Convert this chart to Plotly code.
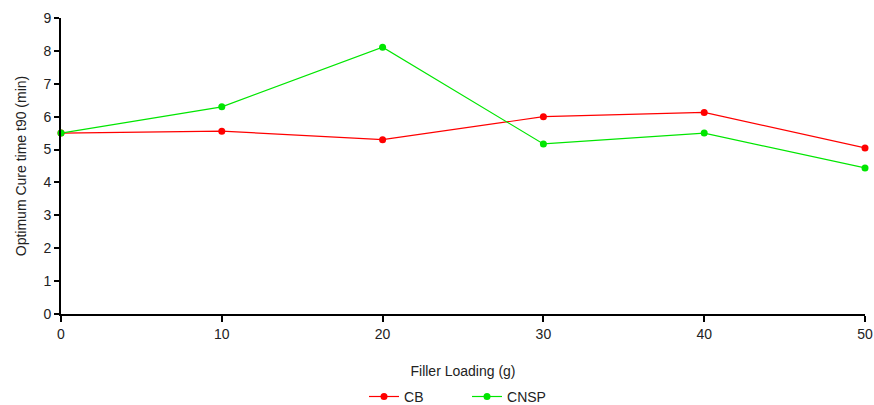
import plotly.graph_objects as go

filler_loading = [0, 10, 20, 30, 40, 50]
cb = [5.50, 5.56, 5.30, 6.00, 6.13, 5.05]
cnsp = [5.50, 6.30, 8.11, 5.17, 5.50, 4.44]

fig = go.Figure()
fig.add_trace(go.Scatter(x=filler_loading, y=cb, mode="lines+markers", name="CB",
                         line=dict(color="#ff0000", width=1.2),
                         marker=dict(color="#ff0000", size=7), cliponaxis=False))
fig.add_trace(go.Scatter(x=filler_loading, y=cnsp, mode="lines+markers", name="CNSP",
                         line=dict(color="#00e600", width=1.2),
                         marker=dict(color="#00e600", size=7), cliponaxis=False))

font = "Liberation Sans, Arial, sans-serif"
fig.update_layout(
    width=874, height=405,
    margin=dict(l=61, r=9, t=18, b=91, autoexpand=False),
    paper_bgcolor="white", plot_bgcolor="white",
    font=dict(family=font, size=14, color="#222"),
    showlegend=True,
    legend=dict(orientation="h", x=0.505, xanchor="center", y=0.02, yanchor="middle",
                yref="container",
                font=dict(size=14), traceorder="normal", itemwidth=30,
                entrywidthmode="pixels", entrywidth=58),
)
fig.update_xaxes(range=[0, 50], tickvals=filler_loading, showgrid=False, zeroline=False,
                 showline=True, linecolor="black", linewidth=2, automargin=False,
                 ticks="outside", ticklen=6, tickwidth=1.5, tickcolor="black",
                 title=dict(text="Filler Loading (g)", font=dict(size=14), standoff=25))
fig.update_yaxes(range=[0, 9], dtick=1, showgrid=False, zeroline=False,
                 showline=True, linecolor="black", linewidth=2, automargin=False,
                 ticks="outside", ticklen=5, tickwidth=1.5, tickcolor="black",
                 title=dict(text="Optimum Cure time t90 (min)", font=dict(size=14), standoff=14))

fig.write_html("out.html", config={"displayModeBar": False},
               post_script="document.body.style.margin='0';document.body.style.overflow='hidden';")
